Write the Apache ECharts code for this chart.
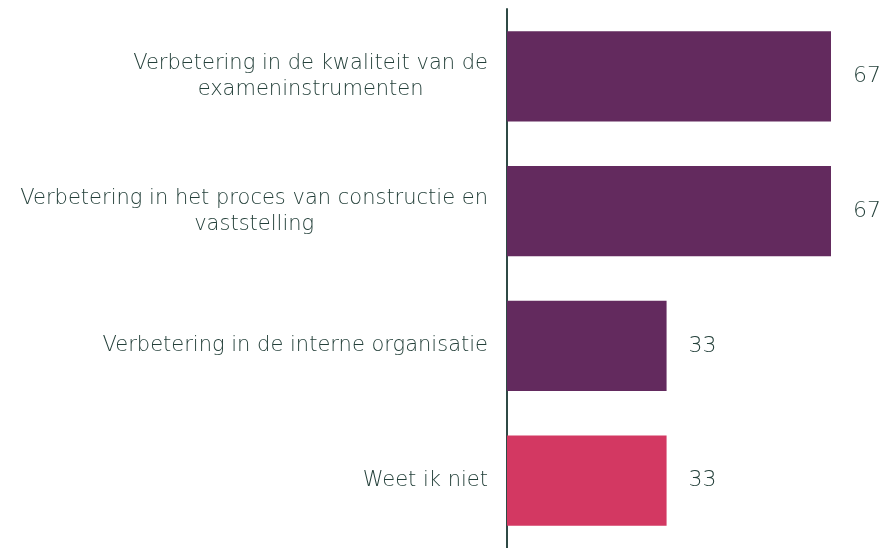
<!DOCTYPE html>
<html>
<head>
<meta charset="utf-8">
<script src="https://cdn.jsdelivr.net/npm/echarts@6/dist/echarts.min.js"></script>
<style>
  html, body { margin: 0; padding: 0; background: #fff; }
  #chart { width: 887px; height: 548px; }
</style>
</head>
<body>
<div id="chart"></div>
<script>
var categories = [
  'Verbetering in de kwaliteit van de\nexameninstrumenten',
  'Verbetering in het proces van constructie en\nvaststelling',
  'Verbetering in de interne organisatie',
  'Weet ik niet'
];
var values = [67, 67, 33, 33];
var barColors = ['#632a5e', '#632a5e', '#632a5e', '#d33862'];

var myChart = echarts.init(document.getElementById('chart'));
var textColor = '#24403a';
var font = 'DejaVu Sans';

var option = {
  animation: false,
  grid: { left: 507, top: 9, width: 338.5, height: 545 },
  xAxis: {
    type: 'value',
    min: 0,
    max: 70,
    show: false
  },
  yAxis: {
    type: 'category',
    inverse: true,
    data: categories,
    axisTick: { show: false },
    axisLine: { lineStyle: { color: '#2f4a45', width: 2 } },
    axisLabel: {
      margin: 19,
      fontFamily: font,
      fontSize: 21,
      fontWeight: 200,
      color: textColor,
      lineHeight: 26,
      formatter: function (v) {
        return v.split('\n').map(function (l) { return '{c|' + l + '}'; }).join('\n');
      },
      rich: {
        c: { align: 'center', fontFamily: font, fontSize: 21, fontWeight: 200, color: textColor, lineHeight: 26 }
      }
    }
  },
  series: [{
    type: 'bar',
    data: values.map(function (v, i) { return { value: v, itemStyle: { color: barColors[i] } }; }),
    barCategoryGap: '33%',
    label: {
      show: true,
      position: 'right',
      distance: 22,
      fontFamily: font,
      fontSize: 22,
      fontWeight: 200,
      color: textColor
    }
  }]
};
myChart.setOption(option);
</script>
</body>
</html>
